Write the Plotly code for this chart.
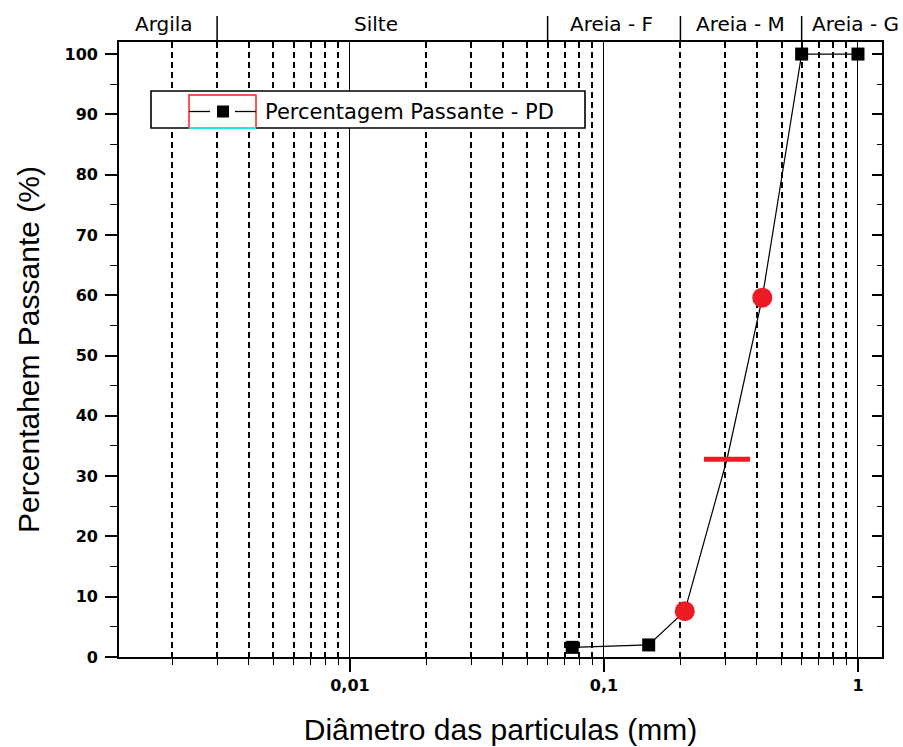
import numpy as np
import plotly.graph_objects as go

# ---------------- data ----------------
sieve_d = [0.075, 0.15, 0.6, 1.0]          # sieve diameters (mm) shown as squares
sieve_p = [1.6, 2.0, 100, 100]             # percentage passing

curve_d = [0.075, 0.15, 0.208, 0.305, 0.42, 0.6, 1.0]
curve_p = [1.6, 2.0, 7.6, 32.8, 59.6, 100, 100]

d10_d60_d = [0.208, 0.42]                  # red circles
d10_d60_p = [7.6, 59.6]
d30_d = [0.305]                            # red dash
d30_p = [32.8]

x_tickvals = [0.01, 0.1, 1]
x_ticktext = ["0,01", "0,1", "1"]
x_minor = [m * 10.0 ** e for e in (-3, -2, -1) for m in range(2, 10)]
y_tickvals = list(range(0, 101, 10))

class_names = ["Argila", "Silte", "Areia - F", "Areia - M", "Areia - G"]
class_label_x = [0.00185, 0.0127, 0.107, 0.346, 0.975]
class_bounds = [0.003, 0.06, 0.2, 0.6]

legend_name = "Percentagem Passante - PD"
x_title = "Diâmetro das particulas (mm)"
y_title = "Percentahem Passante (%)"

# ---------------- layout geometry ----------------
W, H = 903, 747
L, R, T, B = 119, 21, 42, 90
pw, ph = W - L - R, H - T - B

def px(x):
    return (x - L) / pw

def py(y):
    return (H - B - y) / ph

TICKFONT = dict(family="DejaVu Sans", size=16, color="black", weight="bold")
TITLEFONT = dict(family="Liberation Sans, Arial", size=30, color="black")

fig = go.Figure()

fig.add_trace(go.Scatter(
    x=curve_d, y=curve_p, mode="lines",
    line=dict(color="black", width=1.2), showlegend=False, hoverinfo="skip"))
fig.add_trace(go.Scatter(
    x=sieve_d, y=sieve_p, mode="markers", name=legend_name,
    marker=dict(symbol="square", size=13, color="black"), showlegend=False))
fig.add_trace(go.Scatter(
    x=d10_d60_d, y=d10_d60_p, mode="markers",
    marker=dict(symbol="circle", size=20, color="#ed1c24"), showlegend=False))
fig.add_trace(go.Scatter(
    x=d30_d, y=d30_p, mode="markers",
    marker=dict(symbol="line-ew", size=33, line=dict(color="#ed1c24", width=5)),
    showlegend=False))

fig.update_layout(
    width=W, height=H,
    margin=dict(l=L, r=R, t=T, b=B, pad=0, autoexpand=False),
    paper_bgcolor="white", plot_bgcolor="white",
    showlegend=False,
    xaxis=dict(
        type="log", range=[-2.909, 0.0945], automargin=False,
        showline=True, linecolor="black", linewidth=1.6, mirror=True,
        ticks="outside", ticklen=13, tickwidth=1.5, tickcolor="black",
        tickvals=x_tickvals, ticktext=x_ticktext, tickfont=TICKFONT,
        showgrid=True, gridcolor="black", gridwidth=1.4,
        zeroline=False,
        minor=dict(tickvals=x_minor, ticks="outside", ticklen=6, tickwidth=1.4,
                   tickcolor="black", showgrid=True, gridcolor="black",
                   gridwidth=1.6, griddash="6px,4px"),
        title=dict(text=x_title, font=TITLEFONT, standoff=25),
    ),
    yaxis=dict(
        range=[0, 102], automargin=False,
        showline=True, linecolor="black", linewidth=1.6,
        ticks="outside", ticklen=12, tickwidth=1.5, tickcolor="black",
        tickvals=y_tickvals, tickfont=TICKFONT, ticklabelstandoff=4,
        showgrid=False, zeroline=False,
        minor=dict(dtick=5, ticks="outside", ticklen=7, tickwidth=1.3,
                   tickcolor="black", showgrid=False),
        title=dict(text=y_title, font=TITLEFONT, standoff=16),
    ),
    yaxis2=dict(
        range=[0, 102], overlaying="y", side="right", automargin=False,
        showline=True, linecolor="black", linewidth=1.6,
        ticks="inside", ticklen=10, tickwidth=1.5, tickcolor="black",
        tickvals=y_tickvals, showticklabels=False,
        showgrid=False, zeroline=False,
        minor=dict(dtick=5, ticks="inside", ticklen=5, tickwidth=1.3,
                   tickcolor="black", showgrid=False),
    ),
)

# empty trace so the right axis is drawn
fig.add_trace(go.Scatter(x=[], y=[], yaxis="y2", showlegend=False))

# class boundary lines above the frame
for b in class_bounds:
    fig.add_shape(type="line", xref="x", yref="paper", x0=b, x1=b,
                  y0=1, y1=py(16), line=dict(color="black", width=1.5))

# class names above the frame
for name, xv in zip(class_names, class_label_x):
    fig.add_annotation(x=np.log10(xv), y=py(24), xref="x", yref="paper",
                       text=name, showarrow=False, xanchor="center", yanchor="middle",
                       font=dict(family="DejaVu Sans", size=20, color="black"))

# ---------------- legend (drawn by hand, Origin style) ----------------
fig.add_shape(type="rect", xref="paper", yref="paper",
              x0=px(151), x1=px(585), y0=py(128), y1=py(91),
              line=dict(color="black", width=1.6), fillcolor="white", layer="above")
fig.add_shape(type="rect", xref="paper", yref="paper",
              x0=px(189), x1=px(256), y0=py(128), y1=py(95),
              line=dict(color="#ff1a1a", width=1.5), fillcolor="white", layer="above")
fig.add_shape(type="line", xref="paper", yref="paper",
              x0=px(189), x1=px(256), y0=py(128), y1=py(128),
              line=dict(color="#22e5e5", width=2), layer="above")
for xa, xb in ((189, 210), (235, 256)):
    fig.add_shape(type="line", xref="paper", yref="paper",
                  x0=px(xa), x1=px(xb), y0=py(111.5), y1=py(111.5),
                  line=dict(color="black", width=1.3), layer="above")
fig.add_shape(type="rect", xref="paper", yref="paper",
              x0=px(217), x1=px(229), y0=py(117.5), y1=py(105.5),
              line=dict(color="black", width=0), fillcolor="black", layer="above")
fig.add_annotation(x=px(263), y=py(111.5), xref="paper", yref="paper",
                   text=legend_name, showarrow=False, xanchor="left", yanchor="middle",
                   font=dict(family="DejaVu Sans", size=21, color="black"))

fig.write_html("out.html")
